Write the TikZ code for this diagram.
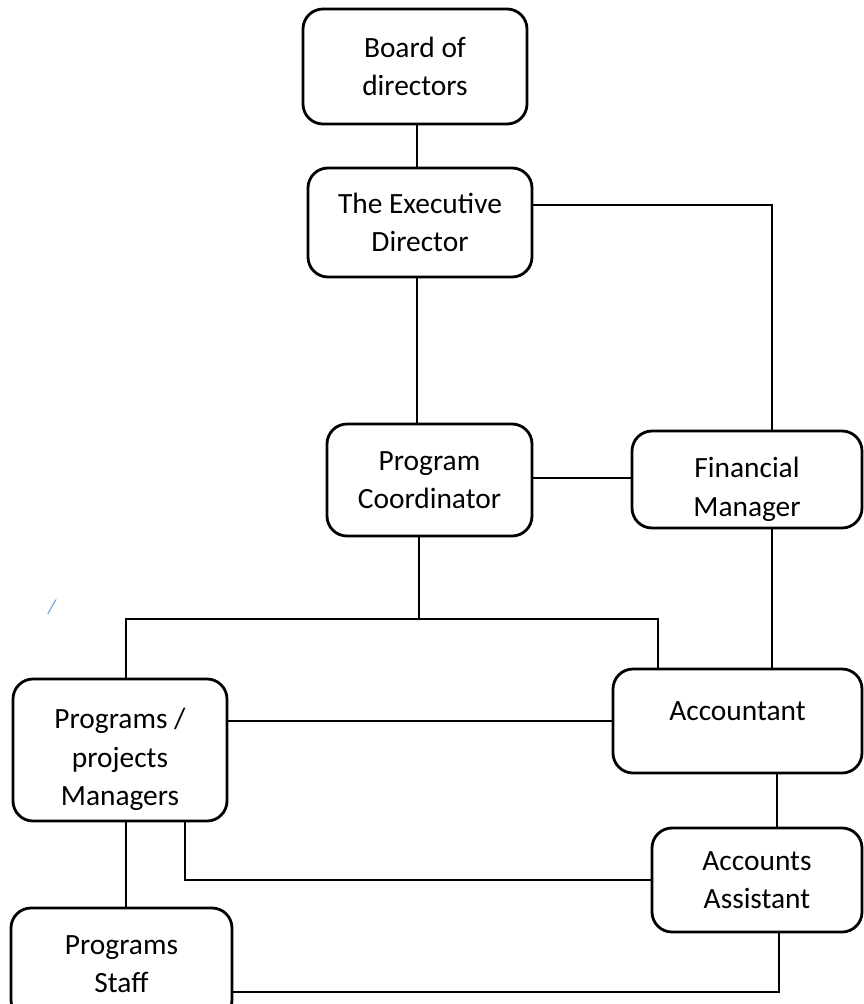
\documentclass[tikz,border=0pt]{standalone}
\usepackage{fontspec}
\setmainfont{Carlito}
\definecolor{azzurro}{RGB}{91,155,213}

\begin{document}
\begin{tikzpicture}[
  x=1pt, y=-1pt,
  font=\fontsize{29.4}{38.5}\selectfont,
  casella/.style={draw=black, line width=2.8pt, fill=white, align=center,
                  rounded corners=20pt, inner sep=0pt},
  collegamento/.style={draw=black, line width=1.2pt}
]
\useasboundingbox (0,0) rectangle (863,1004);

% ---- caselle -------------------------------------------------------
\node[casella, minimum width=224pt, minimum height=115pt] (consiglio) at (415,66.5)
  {Board of\\directors};
\node[casella, minimum width=224pt, minimum height=109pt] (direttore) at (420,222.5)
  {The Executive\\Director};
\node[casella, minimum width=205pt, minimum height=112pt] (coordinatore) at (429.5,480)
  {Program\\Coordinator};
\node[casella, minimum width=230pt, minimum height=97pt] (finanza) at (747,479.5)
  {\rule{0pt}{40pt}Financial\\Manager};
\node[casella, minimum width=214pt, minimum height=142pt] (manager) at (120,750)
  {\rule{0pt}{40pt}Programs /\\projects\\Managers};
\node[casella, minimum width=249pt, minimum height=104pt, text depth=20pt] (contabile) at (737.5,721)
  {Accountant};
\node[casella, minimum width=210pt, minimum height=104pt] (assistente) at (757,880)
  {Accounts\\Assistant};
\node[casella, minimum width=221pt, minimum height=112pt] (staff) at (121.5,964)
  {Programs\\Staff};

\node[text=azzurro, font=\fontsize{20}{22}\selectfont\itshape] (segno) at (52,607) {/};

\coordinate (snodo) at (419,619);

% ---- collegamenti --------------------------------------------------
\draw[collegamento] ([xshift=2pt]consiglio.south) -- ([xshift=2pt]consiglio.south |- direttore.north);
\draw[collegamento] ([yshift=17.5pt]direttore.east) -| ([xshift=25pt]finanza.north);
\draw[collegamento] ([xshift=-3pt]direttore.south) -- ([xshift=-3pt]direttore.south |- coordinatore.north);
\draw[collegamento] ([yshift=2pt]coordinatore.east) -- ([yshift=2pt]coordinatore.east -| finanza.west);
\draw[collegamento] ([xshift=25pt]finanza.south) -- ([xshift=25pt]finanza.south |- contabile.north);
\draw[collegamento] ([xshift=-10.5pt]coordinatore.south) -- (snodo);           % coordinatore -> snodo
\draw[collegamento] ([xshift=6pt]manager.north) |- (snodo) -| ([xshift=-79.5pt]contabile.north);
\draw[collegamento] ([yshift=29pt]manager.east) -- ([yshift=29pt]manager.east -| contabile.west);
\draw[collegamento] ([xshift=39.5pt]contabile.south) -- ([xshift=39.5pt]contabile.south |- assistente.north);
\draw[collegamento] ([xshift=65pt]manager.south) |- (assistente.west);
\draw[collegamento] ([xshift=6pt]manager.south) -- ([xshift=6pt]manager.south |- staff.north);
\draw[collegamento] ([xshift=22pt]assistente.south) |- ([yshift=-28pt]staff.east);

\end{tikzpicture}
\end{document}
